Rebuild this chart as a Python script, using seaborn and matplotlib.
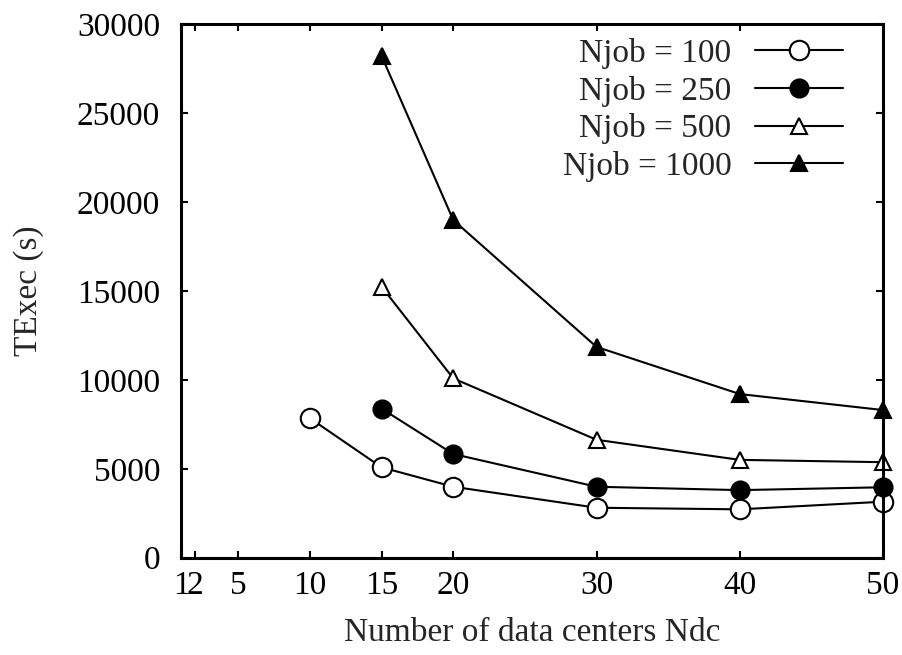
import numpy as np
import pandas as pd
import seaborn as sns
import matplotlib
matplotlib.use("Agg")
import matplotlib.pyplot as plt

# data
ndc_100 = [10, 15, 20, 30, 40, 50]
texec_100 = [7840, 5080, 3990, 2810, 2720, 3150]
ndc = [15, 20, 30, 40, 50]
texec_250 = [8380, 5830, 3990, 3800, 3960]
texec_500 = [15230, 10080, 6630, 5500, 5370]
texec_1000 = [28200, 18980, 11850, 9200, 8300]

x_ticks = [1, 2, 5, 10, 15, 20, 30, 40, 50]
y_ticks = [0, 5000, 10000, 15000, 20000, 25000, 30000]

sns.set_style("ticks")
plt.rcParams['font.family'] = ['Liberation Serif', 'DejaVu Serif']
plt.rcParams['font.size'] = 24

fig = plt.figure(figsize=(9.02, 6.55), dpi=100)
ax = fig.add_axes([0.2007, 0.1485, 0.7783, 0.8149])

series = [
    ("Njob = 100", ndc_100, texec_100, "o", "white", 14),
    ("Njob = 250", ndc, texec_250, "o", "black", 13),
    ("Njob = 500", ndc, texec_500, "^", "white", 12),
    ("Njob = 1000", ndc, texec_1000, "^", "black", 12),
]

for label, xs, ys, mk, fc, ms in series:
    df = pd.DataFrame({"Ndc": xs, "TExec": ys})
    sns.lineplot(data=df, x="Ndc", y="TExec", ax=ax, color="black",
                 linewidth=1.5, marker=mk, markersize=ms,
                 markerfacecolor=fc, markeredgecolor="black",
                 markeredgewidth=1.5, label=label, clip_on=False)

ax.set_xlim(1, 50)
ax.set_ylim(0, 30000)
ax.set_xticks(x_ticks)
ax.set_xticklabels([str(t) for t in x_ticks])
ax.set_yticks(y_ticks)
ax.tick_params(direction="in", length=5, width=1.5, top=True, right=True,
               labelsize=24, colors="black")
ax.tick_params(axis="y", pad=15)
ax.tick_params(axis="x", pad=9)
for s in ax.spines.values():
    s.set_linewidth(2.2)
    s.set_color("black")

ax.set_xlabel("Number of data centers Ndc", fontsize=24, labelpad=12)
ax.set_ylabel("TExec (s)", fontsize=24, labelpad=24)

ax.legend(loc="upper right", bbox_to_anchor=(0.9615, 0.9985), frameon=False,
          markerfirst=False, fontsize=24, handlelength=2.64,
          handletextpad=0.7, labelspacing=0.2, borderaxespad=0)

fig.savefig("out.png", dpi=100)
